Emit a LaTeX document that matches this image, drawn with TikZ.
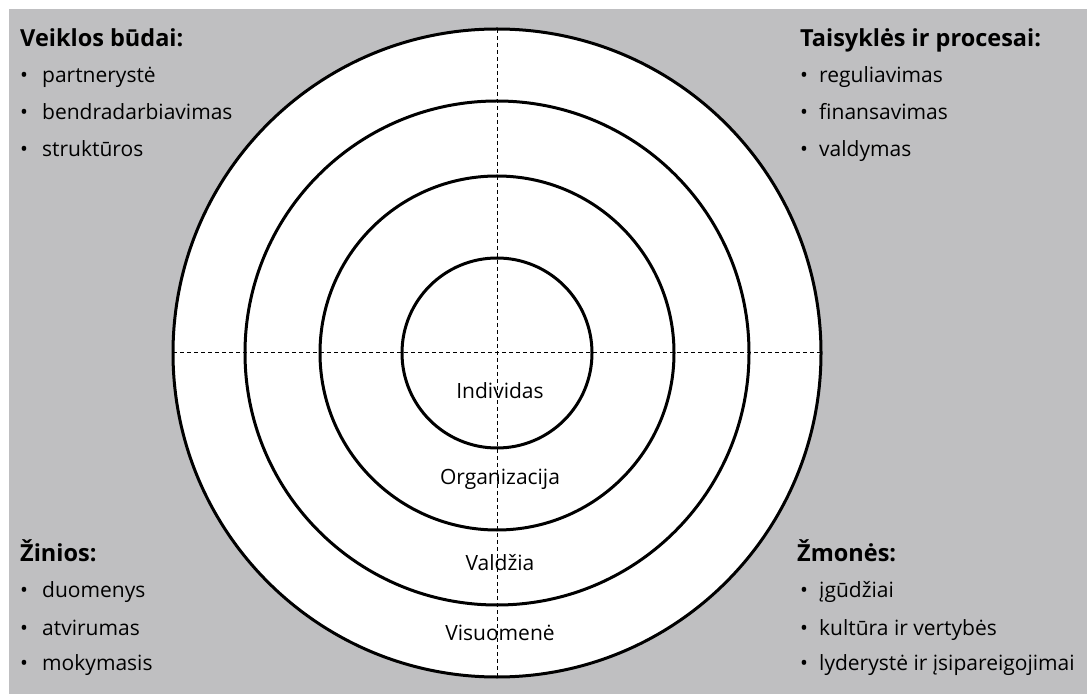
\documentclass[tikz,border=0pt]{standalone}
\usepackage{fontspec}
\setmainfont{Open Sans}
\usetikzlibrary{positioning}
\definecolor{panelgrey}{RGB}{191,191,193}

\begin{document}
\begin{tikzpicture}[x=1pt,y=1pt,
    ring/.style={draw=black, line width=3pt},
    axis/.style={draw=black, line width=1pt, dash pattern=on 4pt off 3pt},
    heading/.style={anchor=base west, inner sep=0pt, font=\fontsize{23.5}{27}\selectfont\bfseries},
    bulletitem/.style={anchor=base west, inner sep=0pt, font=\fontsize{21}{25}\selectfont},
    ringlabel/.style={anchor=base, inner sep=0pt, font=\fontsize{21}{25}\selectfont}]
  \useasboundingbox (0,0) rectangle (1087,694);
  \fill[panelgrey] (9,0) rectangle (1087,685);
  % rings
  \coordinate (c) at (497,341);
  \fill[white] (c) circle[radius=324];
  \path (c) ++(-324,0) coordinate (w) (c) ++(324,0) coordinate (e)
        (c) ++(0,324) coordinate (n) (c) ++(0,-324) coordinate (s);
  \draw[axis] (w) -- (e);
  \draw[axis] (n) -- (s);
  \draw[ring] (c) circle[radius=324];
  \draw[ring] (c) circle[radius=252];
  \draw[ring] (c) circle[radius=177];
  \draw[ring] (c) circle[radius=95];
  \node[ringlabel] (individas) at (500,295) {Individas};
  \node[ringlabel] (organizacija) at (500,209) {Organizacija};
  \node[ringlabel] (valdzia) at (500,124) {Valdžia};
  \node[ringlabel] (visuomene) at (500,54) {Visuomenė};
  % top left
  \node[heading] (veiklos) at (20,647) {Veiklos būdai:};
  \node[bulletitem] (partneryste) at (20,611) {\makebox[22pt][l]{•}partnerystė};
  \node[bulletitem] (bendradarbiavimas) at (20,574) {\makebox[22pt][l]{•}bendradarbiavimas};
  \node[bulletitem] (strukturos) at (20,537) {\makebox[22pt][l]{•}struktūros};
  % top right
  \node[heading] (taisykles) at (800,647) {Taisyklės ir procesai:};
  \node[bulletitem] (reguliavimas) at (800,611) {\makebox[19pt][l]{•}reguliavimas};
  \node[bulletitem] (finansavimas) at (800,574) {\makebox[19pt][l]{•}finansavimas};
  \node[bulletitem] (valdymas) at (800,537) {\makebox[19pt][l]{•}valdymas};
  % bottom left
  \node[heading] (zinios) at (20,133) {Žinios:};
  \node[bulletitem] (duomenys) at (20,97) {\makebox[22pt][l]{•}duomenys};
  \node[bulletitem] (atvirumas) at (20,59) {\makebox[22pt][l]{•}atvirumas};
  \node[bulletitem] (mokymasis) at (20,24) {\makebox[22pt][l]{•}mokymasis};
  % bottom right
  \node[heading] (zmones) at (797,133) {Žmonės:};
  \node[bulletitem] (igudziai) at (800,97) {\makebox[19pt][l]{•}įgūdžiai};
  \node[bulletitem] (kultura) at (800,59) {\makebox[19pt][l]{•}kultūra ir vertybės};
  \node[bulletitem] (lyderyste) at (800,24) {\makebox[19pt][l]{•}lyderystė ir įsipareigojimai};
\end{tikzpicture}
\end{document}
